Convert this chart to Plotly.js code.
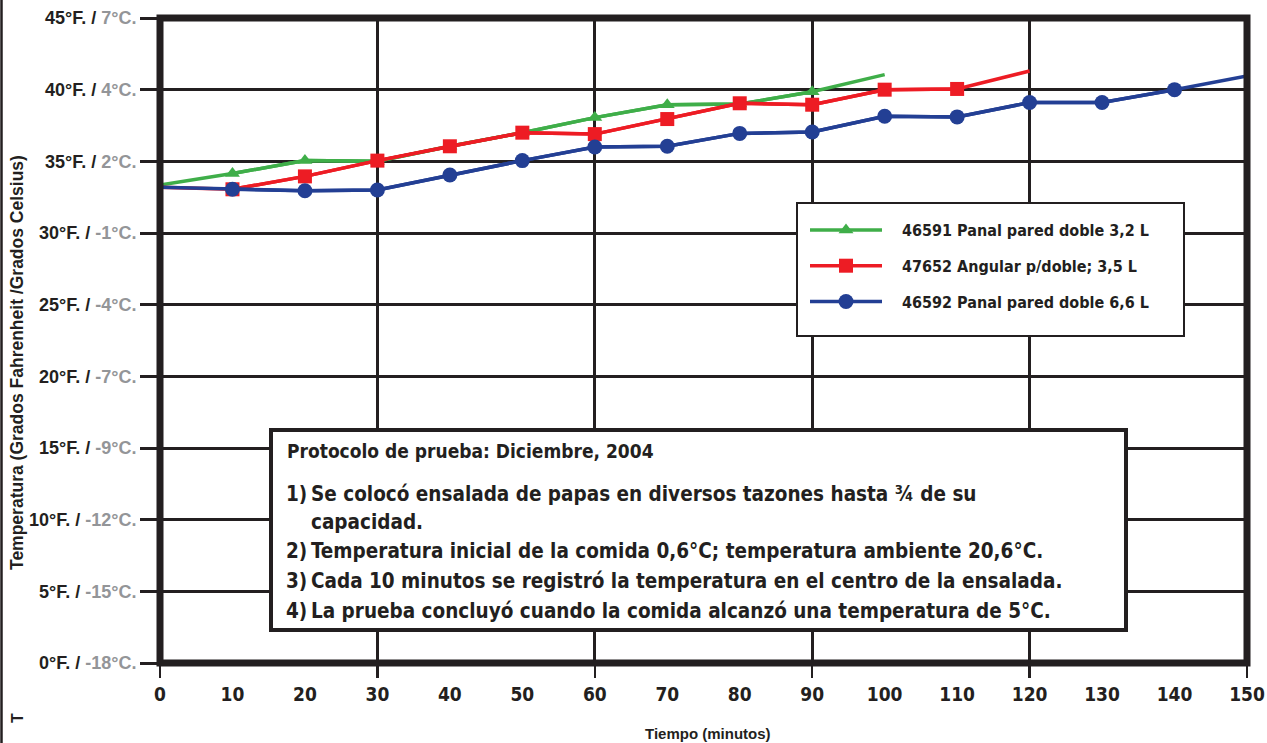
<!DOCTYPE html>
<html>
<head>
<meta charset="utf-8">
<script src="https://cdn.plot.ly/plotly-3.0.1.min.js"></script>
<style>html,body{margin:0;padding:0;background:#fff;}#chart{width:1267px;height:743px;}</style>
</head>
<body>
<div id="chart"></div>
<script>
// ---- data ----
const minutes = [0,10,20,30,40,50,60,70,80,90,100,110,120,130,140,150];
const green46591 = [33.35,34.15,35.05,35.0,36.05,37.0,38.05,38.95,39.0,39.85,41.05];
const red47652   = [33.2,33.05,33.95,35.05,36.05,37.0,36.9,37.95,39.05,38.95,40.0,40.05,41.3];
const blue46592  = [33.2,33.05,32.95,33.0,34.05,35.05,36.0,36.05,36.95,37.05,38.15,38.1,39.1,39.1,40.0,40.95];
const seriesNames = ['46591 Panal pared doble 3,2 L','47652 Angular p/doble; 3,5 L','46592 Panal pared doble 6,6 L'];
const fTicks = [0,5,10,15,20,25,30,35,40,45];
const cTicks = ['-18','-15','-12','-9','-7','-4','-1','2','4','7'];
const gridMinutes = [0,30,60,90,120,150];
const noteTitle = 'Protocolo de prueba: Diciembre, 2004';
const noteNums = ['1)','','2)','3)','4)'];
const noteLines = ['Se colocó ensalada de papas en diversos tazones hasta ¾ de su','capacidad.',
  'Temperatura inicial de la comida 0,6°C; temperatura ambiente 20,6°C.',
  'Cada 10 minutos se registró la temperatura en el centro de la ensalada.',
  'La prueba concluyó cuando la comida alcanzó una temperatura de 5°C.'];
const yTitle = 'Temperatura (Grados Fahrenheit /Grados Celsius)';
const xTitle = 'Tiempo (minutos)';

// ---- style ----
const DARK = '#231f20';
const GRAY = '#939598';
const NARROW = '"Liberation Sans Narrow", "DejaVu Sans Condensed", "Arial Narrow", sans-serif';
const BOLD = '"Liberation Sans", Arial, Helvetica, sans-serif';
const W = 1267, H = 743, L = 160, R = 20, T = 18, B = 80;
const pw = W - L - R, ph = H - T - B;
const px = x => (x - L) / pw;
const py = y => (H - B - y) / ph;

const colors = ['#3fae49', '#ed1c24', '#233f94'];
const symbols = ['triangle-up', 'square', 'circle'];
const sizes = [13, 14, 15];
const ys = [green46591, red47652, blue46592];
const PADNAME = '\u00a0\u00a0\u00a0';

const traces = [];
ys.forEach((vals, i) => {
  const xs = minutes.slice(0, vals.length);
  const axis = i === 2 ? 'x2' : 'x';
  traces.push({x: xs, y: vals, type: 'scatter', mode: 'lines', xaxis: axis,
    line: {color: colors[i], width: 3.5}, showlegend: false, hoverinfo: 'skip'});
  traces.push({x: xs.slice(1, -1), y: vals.slice(1, -1), type: 'scatter', mode: 'lines+markers', xaxis: axis,
    name: PADNAME + seriesNames[i], legendgroup: 'g' + i,
    line: {color: colors[i], width: 3.5},
    marker: {color: colors[i], symbol: symbols[i], size: sizes[i]}});
});

const annotations = [];
annotations.push({xref: 'paper', yref: 'paper', x: px(17), y: py(363), text: '<b>' + yTitle + '</b>',
  textangle: -90, showarrow: false, font: {family: BOLD, size: 17.5, color: DARK}, xanchor: 'center', yanchor: 'middle'});
annotations.push({xref: 'paper', yref: 'paper', x: px(708), y: py(733), text: '<b>' + xTitle + '</b>',
  showarrow: false, font: {family: BOLD, size: 15, color: DARK}, xanchor: 'center', yanchor: 'middle'});
annotations.push({xref: 'paper', yref: 'paper', x: px(17), y: py(718), text: '<b>T</b>', textangle: -90,
  showarrow: false, font: {family: BOLD, size: 16, color: DARK}, xanchor: 'center', yanchor: 'middle'});
annotations.push({xref: 'paper', yref: 'paper', x: px(285), y: py(451), text: '<b>' + noteTitle + '</b>',
  showarrow: false, font: {family: NARROW, size: 19, color: DARK}, xanchor: 'left', yanchor: 'middle'});
const lineY = [494, 522, 551, 581, 611];
noteLines.forEach((t, i) => {
  if (noteNums[i]) annotations.push({xref: 'paper', yref: 'paper', x: px(284), y: py(lineY[i]), text: '<b>' + noteNums[i] + '</b>',
    showarrow: false, font: {family: NARROW, size: 20.5, color: DARK}, xanchor: 'left', yanchor: 'middle'});
  annotations.push({xref: 'paper', yref: 'paper', x: px(309), y: py(lineY[i]), text: '<b>' + t + '</b>',
    showarrow: false, font: {family: NARROW, size: 20.5, color: DARK}, xanchor: 'left', yanchor: 'middle'});
});

const shapes = [
  {type: 'rect', xref: 'paper', yref: 'paper', x0: px(271), x1: px(1126), y0: py(430), y1: py(630),
    line: {color: DARK, width: 4}, fillcolor: '#fff', layer: 'above'},
  {type: 'rect', xref: 'paper', yref: 'paper', x0: px(797), x1: px(1184), y0: py(203), y1: py(336),
    line: {color: DARK, width: 2}, fillcolor: '#fff', layer: 'above'},
  {type: 'rect', xref: 'paper', yref: 'paper', x0: 0, x1: 1, y0: 0, y1: 1,
    line: {color: DARK, width: 7}, fillcolor: 'rgba(0,0,0,0)', layer: 'above'},
  {type: 'line', xref: 'paper', yref: 'paper', x0: px(1.5), x1: px(1.5), y0: py(-2), y1: py(745),
    line: {color: DARK, width: 2.5}}
];

const layout = {
  width: W, height: H,
  margin: {l: L, r: R, t: T, b: B, pad: 0},
  paper_bgcolor: '#fff', plot_bgcolor: '#fff',
  showlegend: true,
  legend: {x: px(805), y: py(213), xanchor: 'left', yanchor: 'top', bgcolor: 'rgba(0,0,0,0)', borderwidth: 0,
    font: {family: NARROW, size: 16, color: DARK, weight: 'bold'}, itemwidth: 72, tracegroupgap: 12, traceorder: 'grouped',
    itemclick: false},
  xaxis: {range: [0, 150], tickmode: 'array', tickvals: minutes, ticktext: minutes.map(m => '<b>' + m + '</b>'),
    showgrid: false, zeroline: false, showline: false, ticks: 'outside', ticklen: 14, tickcolor: 'rgba(0,0,0,0)',
    tickfont: {family: NARROW, size: 19, color: DARK}, fixedrange: true},
  xaxis2: {range: [0, 150], overlaying: 'x', anchor: 'y', side: 'bottom', tickmode: 'array', tickvals: gridMinutes,
    showticklabels: false, showgrid: true, gridcolor: DARK, gridwidth: 3, zeroline: false, showline: false,
    ticks: 'outside', ticklen: 14, tickwidth: 2.5, tickcolor: DARK, fixedrange: true},
  yaxis: {range: [0, 45], tickmode: 'array', tickvals: fTicks,
    ticktext: fTicks.map((f, i) => '<b>' + f + '°F. / <span style="color:' + GRAY + '">' + cTicks[i] + '°C.</span></b>'),
    showgrid: true, gridcolor: DARK, gridwidth: 3, zeroline: false, showline: false,
    ticks: 'outside', ticklen: 19, tickwidth: 3, tickcolor: DARK,
    tickfont: {family: BOLD, size: 18, color: DARK}, fixedrange: true},
  annotations: annotations,
  shapes: shapes
};

Plotly.newPlot('chart', traces, layout, {staticPlot: true, displayModeBar: false});
</script>
</body>
</html>
